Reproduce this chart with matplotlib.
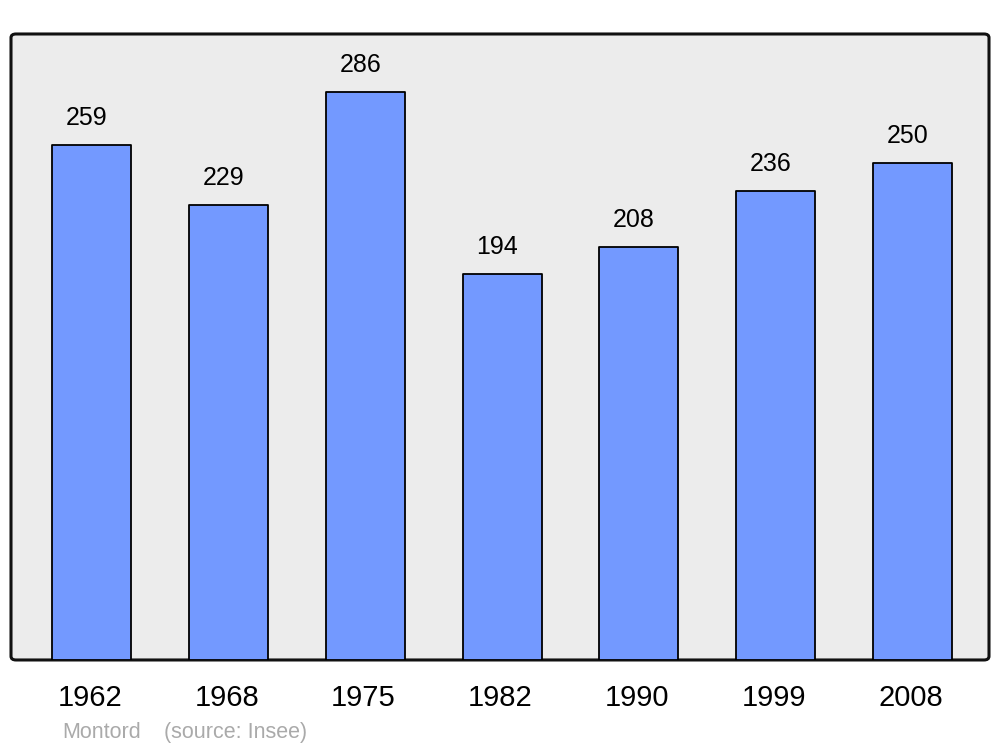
import matplotlib
matplotlib.use("Agg")
import matplotlib.pyplot as plt
import matplotlib.transforms as mtransforms
from matplotlib.patches import FancyBboxPatch

years = ["1962", "1968", "1975", "1982", "1990", "1999", "2008"]
population = [259, 229, 286, 194, 208, 236, 250]
place = "Montord"
source = "(source: Insee)"

plt.rcParams['font.family'] = ['Liberation Sans', 'DejaVu Sans']

fig = plt.figure(figsize=(10, 7.47), dpi=100)

# rounded grey frame behind the bars
frame = FancyBboxPatch((0.011, 0.1165), 0.978, 0.838,
                       boxstyle="round,pad=0,rounding_size=0.005",
                       transform=fig.transFigure, facecolor="#ececec",
                       edgecolor="#111111", linewidth=2.2, zorder=-5)
fig.patches.append(frame)

ax = fig.add_axes([0.011, 0.1165, 0.978, 0.838], zorder=1)
ax.set_facecolor("none")

x = list(range(len(years)))
bars = ax.bar(x, population, width=0.578, color="#7399ff",
              edgecolor="black", linewidth=1.3, zorder=2)
for b in bars:
    b.set_joinstyle("round")

for xi, v in zip(x, population):
    ax.annotate(str(v), (xi, v), xytext=(-5, 15), textcoords="offset pixels",
                ha="center", va="bottom", fontsize=18, color="black")

ax.set_xlim(-0.592, 6.56)
ax.set_ylim(0, 315)
ax.set_xticks(x)
ax.set_xticklabels(years, fontsize=21)
ax.tick_params(axis="x", length=0, pad=17)
shift = mtransforms.ScaledTranslation(-2 / 100, 0, fig.dpi_scale_trans)
for lbl in ax.get_xticklabels():
    lbl.set_transform(lbl.get_transform() + shift)
ax.set_yticks([])
for s in ax.spines.values():
    s.set_visible(False)

fig.text(0.062, 0.019, place, fontsize=15.5, color="#aaaaaa", ha="left", va="center")
fig.text(0.164, 0.019, source, fontsize=15.5, color="#aaaaaa", ha="left", va="center")

fig.savefig("out.png", dpi=100)
